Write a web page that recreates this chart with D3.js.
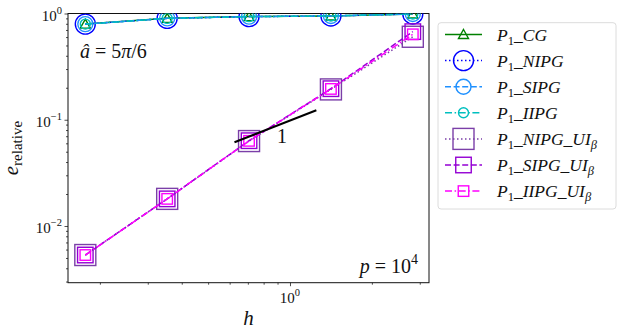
<!DOCTYPE html>
<html>
<head>
<meta charset="utf-8">
<script src="https://cdn.jsdelivr.net/npm/d3@7"></script>
<style>
body { margin: 0; background: #fff; }
svg { display: block; }
</style>
</head>
<body>
<script>
// mesh sizes and relative errors
const hValues = [0.1768, 0.3536, 0.7071, 1.4142, 2.8284];
const cgErr = [0.795, 0.900, 0.935, 0.948, 0.990];
const nipgErr = [0.795, 0.900, 0.935, 0.948, 0.990];
const sipgErr = [0.795, 0.900, 0.935, 0.948, 0.990];
const iipgErr = [0.795, 0.900, 0.935, 0.948, 0.990];
const nipgUiErr = [0.00533, 0.0180, 0.0630, 0.193, 0.604];
const sipgUiErr = [0.00533, 0.0180, 0.0635, 0.196, 0.675];
const iipgUiErr = [0.00533, 0.0180, 0.0633, 0.195, 0.637];

// slope-1 reference segment
const slopeH = [0.625, 1.25];
const slopeErr = [0.0614, 0.1228];

// legend label pieces: [text, kind]
const legendLabels = [
  [["P","i"],["1","sub"],["_","u"],["CG","i"]],
  [["P","i"],["1","sub"],["_","u"],["NIPG","i"]],
  [["P","i"],["1","sub"],["_","u"],["SIPG","i"]],
  [["P","i"],["1","sub"],["_","u"],["IIPG","i"]],
  [["P","i"],["1","sub"],["_","u"],["NIPG","i"],["_","u"],["UI","i"],["β","isub"]],
  [["P","i"],["1","sub"],["_","u"],["SIPG","i"],["_","u"],["UI","i"],["β","isub"]],
  [["P","i"],["1","sub"],["_","u"],["IIPG","i"],["_","u"],["UI","i"],["β","isub"]]
];

const series = [
  {vals: cgErr,     color: "#008000", dash: null,          marker: "tri",    size: 10},
  {vals: nipgErr,   color: "#0000ff", dash: "1.5,2.5",     marker: "circle", size: 20},
  {vals: sipgErr,   color: "#1e90ff", dash: "6,2.6",       marker: "circle", size: 15},
  {vals: iipgErr,   color: "#00bfbf", dash: "7,2.6,1.5,2.6", marker: "circle", size: 10},
  {vals: nipgUiErr, color: "#7b3fa8", dash: "1.5,2.5",     marker: "square", size: 21},
  {vals: sipgUiErr, color: "#9400d3", dash: "6,2.6",       marker: "square", size: 15.5},
  {vals: iipgUiErr, color: "#ff00ff", dash: "7,2.6,1.5,2.6", marker: "square", size: 10.5}
];

const W = 623, H = 335;
const plot = {left: 68, right: 429, top: 13.5, bottom: 282.7};
const FONT = "'Liberation Serif', 'DejaVu Serif', 'Times New Roman', serif";

const svg = d3.select("body").append("svg").attr("width", W).attr("height", H)
  .attr("font-family", FONT).style("font-family", FONT);

const x = d3.scaleLog().domain([0.1527, 3.244]).range([plot.left, plot.right]);
const y = d3.scaleLog().domain([0.002926, 1]).range([plot.bottom, plot.top]);

const isMajor = v => Math.abs(Math.log10(v) - Math.round(Math.log10(v))) < 1e-6;

// clip
svg.append("clipPath").attr("id", "clip")
  .append("rect").attr("x", plot.left).attr("y", plot.top)
  .attr("width", plot.right - plot.left).attr("height", plot.bottom - plot.top);

// axes ticks
const xt = x.ticks();
const yt = y.ticks();
const xAxisG = svg.append("g").attr("transform", `translate(0,${plot.bottom})`);
xAxisG.call(d3.axisBottom(x).tickValues(xt.filter(isMajor)).tickSize(3.5).tickFormat(""));
xAxisG.append("g").call(d3.axisBottom(x).tickValues(xt.filter(v => !isMajor(v))).tickSize(2).tickFormat(""));
const yAxisG = svg.append("g").attr("transform", `translate(${plot.left},0)`);
yAxisG.call(d3.axisLeft(y).tickValues(yt.filter(isMajor)).tickSize(3.5).tickFormat(""));
yAxisG.append("g").call(d3.axisLeft(y).tickValues(yt.filter(v => !isMajor(v))).tickSize(2).tickFormat(""));
svg.selectAll(".domain").remove();
svg.selectAll(".tick line").attr("stroke", "#222").attr("stroke-width", 0.8);

// text helper keeps the serif face on every label
const txt = (parent) => parent.append("text").style("font-family", FONT).attr("fill", "#111");

// tick labels 10^n
function powLabel(sel, n) {
  sel.append("tspan").text("10");
  sel.append("tspan").attr("dy", -7).attr("font-size", "10.5px").text(n < 0 ? "\u2212" + (-n) : n);
}
xt.filter(isMajor).forEach(v => {
  const t = txt(svg).attr("x", x(v)).attr("y", 303).attr("font-size", "15px")
    .attr("text-anchor", "middle");
  powLabel(t, Math.round(Math.log10(v)));
});
yt.filter(isMajor).forEach(v => {
  const t = txt(svg).attr("x", 62).attr("y", y(v) + 7).attr("font-size", "15px")
    .attr("text-anchor", "end");
  powLabel(t, Math.round(Math.log10(v)));
});

// frame
svg.append("rect").attr("x", plot.left).attr("y", plot.top)
  .attr("width", plot.right - plot.left).attr("height", plot.bottom - plot.top)
  .attr("fill", "none").attr("stroke", "#111").attr("stroke-width", 1);

// markers
function drawMarker(g, m, cx, cy, color) {
  if (m.marker === "circle") {
    g.append("circle").attr("cx", cx).attr("cy", cy).attr("r", m.size / 2)
      .attr("fill", "none").attr("stroke", color).attr("stroke-width", 1.4);
  } else if (m.marker === "square") {
    g.append("rect").attr("x", cx - m.size / 2).attr("y", cy - m.size / 2)
      .attr("width", m.size).attr("height", m.size)
      .attr("fill", "none").attr("stroke", color).attr("stroke-width", 1.4);
  } else {
    const s = m.size / 2;
    g.append("path").attr("d", `M${cx},${cy - s}L${cx + s},${cy + s * 0.8}L${cx - s},${cy + s * 0.8}Z`)
      .attr("fill", "none").attr("stroke", color).attr("stroke-width", 1.4);
  }
}

const dataG = svg.append("g").attr("clip-path", "url(#clip)");
const line = d3.line().x(d => x(d[0])).y(d => y(d[1]));
series.forEach(s => {
  const pts = hValues.map((h, i) => [h, s.vals[i]]);
  dataG.append("path").attr("d", line(pts)).attr("fill", "none")
    .attr("stroke", s.color).attr("stroke-width", 1.5)
    .attr("stroke-dasharray", s.dash);
  pts.forEach(p => drawMarker(dataG, s, x(p[0]), y(p[1]), s.color));
});

// slope reference
dataG.append("path").attr("d", line(slopeH.map((h, i) => [h, slopeErr[i]])))
  .attr("stroke", "#000").attr("stroke-width", 2).attr("fill", "none");
txt(svg).attr("x", 282).attr("y", 142.7).attr("font-size", "20px")
  .attr("text-anchor", "middle").text("1");

// annotations
const aTxt = txt(svg).attr("x", 80).attr("y", 58).attr("font-size", "20px");
aTxt.append("tspan").attr("font-style", "italic").text("â");
aTxt.append("tspan").text(" = 5");
aTxt.append("tspan").attr("font-style", "italic").text("π");
aTxt.append("tspan").text("/6");

const pTxt = txt(svg).attr("x", 418).attr("y", 273).attr("font-size", "20px")
  .attr("text-anchor", "end");
pTxt.append("tspan").attr("font-style", "italic").text("p");
pTxt.append("tspan").text(" = 10");
pTxt.append("tspan").attr("dy", -9).attr("font-size", "14px").text("4");

// axis labels
txt(svg).attr("x", (plot.left + plot.right) / 2).attr("y", 325)
  .attr("font-size", "21px").attr("font-style", "italic").attr("text-anchor", "middle").text("h");
const eTxt = txt(svg).attr("transform", `translate(18,${(plot.top + plot.bottom) / 2}) rotate(-90)`)
  .attr("font-size", "21px").attr("text-anchor", "middle");
eTxt.append("tspan").attr("font-style", "italic").text("e");
eTxt.append("tspan").attr("dy", 4).attr("font-size", "15px").text("relative");

// legend
const leg = svg.append("g");
leg.append("rect").attr("x", 438).attr("y", 22.7).attr("width", 178).attr("height", 186.3)
  .attr("rx", 3).attr("fill", "#fff").attr("stroke", "#dcdcdc").attr("stroke-width", 1);
series.forEach((s, i) => {
  const cy = 34.5 + i * 26.1;
  leg.append("line").attr("x1", 445).attr("x2", 482).attr("y1", cy).attr("y2", cy)
    .attr("stroke", s.color).attr("stroke-width", 1.5).attr("stroke-dasharray", s.dash);
  drawMarker(leg, s, 463.5, cy, s.color);
  const t = txt(leg).attr("x", 497).attr("y", cy + 6).attr("font-size", "17.5px");
  let off = 0;
  legendLabels[i].forEach(([str, kind]) => {
    const sub = kind === "sub" || kind === "isub";
    const target = sub ? 4 : 0;
    const ts = t.append("tspan").attr("dy", target - off).text(str);
    off = target;
    if (kind === "i" || kind === "isub") ts.attr("font-style", "italic");
    if (sub) ts.attr("font-size", "12.5px");
  });
});
</script>
</body>
</html>
